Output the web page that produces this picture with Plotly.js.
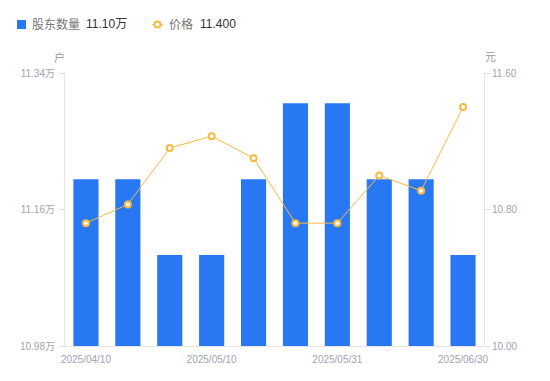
<!DOCTYPE html>
<html>
<head>
<meta charset="utf-8">
<script src="https://cdn.plot.ly/plotly-3.0.1.min.js"></script>
<style>
html,body{margin:0;padding:0;background:#fff;}
#chart{width:550px;height:381px;}
</style>
</head>
<body>
<div id="chart"></div>
<script>
// Data
const dates = ["2025/04/10","2025/04/20","2025/04/30","2025/05/10","2025/05/16","2025/05/23","2025/05/31","2025/06/10","2025/06/20","2025/06/30"];
const holders = [11.20, 11.20, 11.10, 11.10, 11.20, 11.30, 11.30, 11.20, 11.20, 11.10]; // 万户
const prices = [10.72, 10.83, 11.16, 11.23, 11.10, 10.72, 10.72, 11.00, 10.91, 11.40];
const xTickLabels = ["2025/04/10","2025/05/10","2025/05/31","2025/06/30"];
const leftTicks = [10.98, 11.16, 11.34];
const rightTicks = [10.00, 10.80, 11.60];

const barColor = '#2878F4';
const lineColor = '#F9B940';
const tickColor = '#A0A3B2';
const font = 'Liberation Sans, Arial, Noto Sans CJK SC, sans-serif';

const L = 65, R = 484, T = 73, B = 346;
const px = x => (x - L) / (R - L);
const py = y => (B - y) / (B - T);

const traces = [
  {
    type: 'bar', x: dates, y: holders, name: '股东数量',
    marker: {color: barColor, line: {width: 0}},
    width: 0.6, yaxis: 'y', showlegend: false, hoverinfo: 'x+y'
  },
  {
    type: 'scatter', mode: 'lines+markers', x: dates, y: prices, name: '价格',
    yaxis: 'y2', showlegend: false,
    line: {color: lineColor, width: 1},
    marker: {symbol: 'circle', size: 6, color: '#fff', line: {color: lineColor, width: 2}}
  }
];

const lastH = holders[holders.length - 1].toFixed(2) + '万';
const lastP = prices[prices.length - 1].toFixed(3);

const layout = {
  width: 550, height: 381,
  margin: {l: L, r: 550 - R, t: T, b: 381 - B, pad: 0},
  paper_bgcolor: '#fff', plot_bgcolor: '#fff',
  font: {family: font, size: 10, color: tickColor},
  showlegend: false,
  bargap: 0.4,
  xaxis: {
    type: 'category', range: [-0.5, dates.length - 0.5],
    tickmode: 'array', tickvals: xTickLabels, ticktext: xTickLabels,
    ticks: '', ticklabelstandoff: 4, showgrid: false, zeroline: false,
    showline: true, linecolor: '#E6E6E6', linewidth: 1,
    tickfont: {size: 10, color: tickColor}, fixedrange: true
  },
  yaxis: {
    range: [10.98, 11.34], tickmode: 'array', tickvals: leftTicks,
    ticktext: leftTicks.map(v => v.toFixed(2) + '万'),
    ticks: 'outside', ticklen: 5, tickcolor: '#E0E0E0', ticklabelstandoff: 2,
    showgrid: false, zeroline: false,
    showline: true, linecolor: '#E6E6E6', linewidth: 1,
    tickfont: {size: 10, color: tickColor}, fixedrange: true
  },
  yaxis2: {
    range: [10.00, 11.60], overlaying: 'y', side: 'right',
    tickmode: 'array', tickvals: rightTicks, ticktext: rightTicks.map(v => v.toFixed(2)),
    ticks: 'outside', ticklen: 5, tickcolor: '#E0E0E0',
    showgrid: false, zeroline: false,
    showline: true, linecolor: '#E6E6E6', linewidth: 1,
    tickfont: {size: 10, color: tickColor}, fixedrange: true
  },
  shapes: [
    {type: 'rect', xref: 'paper', yref: 'paper', x0: px(17), x1: px(26), y0: py(29), y1: py(20),
     fillcolor: barColor, line: {width: 0}},
    {type: 'line', xref: 'paper', yref: 'paper', x0: px(152), x1: px(163), y0: py(24.5), y1: py(24.5),
     line: {color: lineColor, width: 1}},
    {type: 'circle', xref: 'paper', yref: 'paper', x0: px(154.5), x1: px(160.5), y0: py(27.5), y1: py(21.5),
     fillcolor: '#fff', line: {color: lineColor, width: 2}}
  ],
  annotations: [
    {text: '股东数量', xref: 'paper', yref: 'paper', x: px(30), y: py(24.5), xanchor: 'left', yanchor: 'middle',
     showarrow: false, font: {size: 12, color: '#777'}},
    {text: lastH, xref: 'paper', yref: 'paper', x: px(84), y: py(24.5), xanchor: 'left', yanchor: 'middle',
     showarrow: false, font: {size: 12, color: '#333'}},
    {text: '价格', xref: 'paper', yref: 'paper', x: px(167), y: py(24.5), xanchor: 'left', yanchor: 'middle',
     showarrow: false, font: {size: 12, color: '#777'}},
    {text: lastP, xref: 'paper', yref: 'paper', x: px(198), y: py(24.5), xanchor: 'left', yanchor: 'middle',
     showarrow: false, font: {size: 12, color: '#333'}},
    {text: '户', xref: 'paper', yref: 'paper', x: px(59), y: py(57), xanchor: 'center', yanchor: 'middle',
     showarrow: false, font: {size: 11, color: '#999'}},
    {text: '元', xref: 'paper', yref: 'paper', x: px(490), y: py(57), xanchor: 'center', yanchor: 'middle',
     showarrow: false, font: {size: 11, color: '#999'}}
  ]
};

Plotly.newPlot('chart', traces, layout, {displayModeBar: false, staticPlot: true});
</script>
</body>
</html>
